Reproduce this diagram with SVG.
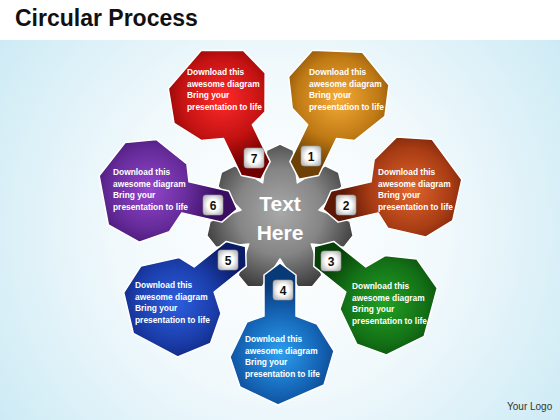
<svg xmlns="http://www.w3.org/2000/svg" xmlns:xlink="http://www.w3.org/1999/xlink" width="560" height="420" viewBox="0 0 560 420">
<style>
.t{font-family:"Liberation Sans",Arial,sans-serif;font-weight:bold;font-size:8.4px;fill:#fff}
.num{font-family:"Liberation Sans",Arial,sans-serif;font-weight:bold;font-size:12px;fill:#111;text-anchor:middle}
.box{fill:url(#boxg);stroke:#9a9a9a;stroke-width:0.6}
.petal{stroke:#fff;stroke-width:1.5;stroke-linejoin:round}
</style>
<defs>
<radialGradient id="bg" gradientUnits="userSpaceOnUse" cx="280" cy="230" r="360">
<stop offset="0" stop-color="#ffffff"/><stop offset="0.45" stop-color="#f1f9fc"/><stop offset="1" stop-color="#c9e9f4"/>
</radialGradient>
<radialGradient id="gearg" gradientUnits="userSpaceOnUse" cx="280" cy="212" r="78">
<stop offset="0" stop-color="#a9a9a9"/><stop offset="0.55" stop-color="#858585"/><stop offset="1" stop-color="#3e3e3e"/>
</radialGradient>
<radialGradient id="boxg" cx="0.5" cy="0.5" r="0.6">
<stop offset="0.45" stop-color="#ffffff"/><stop offset="1" stop-color="#b8b8b8"/>
</radialGradient>
<radialGradient id="g1" gradientUnits="userSpaceOnUse" cx="280" cy="85" r="68"><stop offset="0" stop-color="#f5ab38"/><stop offset="0.6" stop-color="#c07a14"/><stop offset="1" stop-color="#6e4006"/></radialGradient>
<radialGradient id="g2" gradientUnits="userSpaceOnUse" cx="280" cy="85" r="68"><stop offset="0" stop-color="#e2652c"/><stop offset="0.6" stop-color="#a83c14"/><stop offset="1" stop-color="#5e1806"/></radialGradient>
<radialGradient id="g3" gradientUnits="userSpaceOnUse" cx="280" cy="85" r="68"><stop offset="0" stop-color="#22a024"/><stop offset="0.6" stop-color="#137016"/><stop offset="1" stop-color="#073f09"/></radialGradient>
<radialGradient id="g4" gradientUnits="userSpaceOnUse" cx="280" cy="85" r="68"><stop offset="0" stop-color="#2c9ff0"/><stop offset="0.6" stop-color="#1463b4"/><stop offset="1" stop-color="#093a78"/></radialGradient>
<radialGradient id="g5" gradientUnits="userSpaceOnUse" cx="280" cy="85" r="68"><stop offset="0" stop-color="#2d5fe0"/><stop offset="0.6" stop-color="#1a3ca8"/><stop offset="1" stop-color="#0a1c68"/></radialGradient>
<radialGradient id="g6" gradientUnits="userSpaceOnUse" cx="280" cy="85" r="68"><stop offset="0" stop-color="#9446cc"/><stop offset="0.6" stop-color="#642a98"/><stop offset="1" stop-color="#3a0f62"/></radialGradient>
<radialGradient id="g7" gradientUnits="userSpaceOnUse" cx="280" cy="85" r="68"><stop offset="0" stop-color="#ff2a2a"/><stop offset="0.6" stop-color="#c41212"/><stop offset="1" stop-color="#720000"/></radialGradient>
<polygon id="petal" class="petal" points="282,33 320,51 330,81 313,116 296,122 296,163 280,175 264,163 264,122 243,114 226,87 236,53"/>
</defs>

<rect x="0" y="0" width="560" height="420" fill="url(#bg)"/>
<rect x="0" y="0" width="560" height="40" fill="#ffffff"/>
<text x="15" y="26" font-family="Liberation Sans, Arial, sans-serif" font-weight="bold" font-size="23" fill="#111">Circular Process</text>
<text x="507" y="410" font-family="Liberation Sans, Arial, sans-serif" font-size="10" fill="#333">Your Logo</text>

<g id="center-gear">
<polygon fill="url(#gearg)" stroke="#fff" stroke-width="1.5" stroke-linejoin="round" points="266.64,150.29 280,144 293.36,150.29 297.36,182.96 325.40,165.72 338.64,172.24 342.06,186.60 319.00,210.10 349.96,221.27 353.12,235.69 344.02,247.31 311.27,243.94 321.85,275.12 312.54,286.58 297.78,286.70 280,259 262.22,286.70 247.46,286.58 238.15,275.12 248.73,243.94 215.98,247.31 206.88,235.69 210.04,221.27 241.00,210.10 217.94,186.60 221.36,172.24 234.60,165.72 262.64,182.96"/>
<text x="280" y="211" text-anchor="middle" font-family="Liberation Sans, Arial, sans-serif" font-weight="bold" font-size="21" fill="#fff">Text</text>
<text x="280" y="240" text-anchor="middle" font-family="Liberation Sans, Arial, sans-serif" font-weight="bold" font-size="21" fill="#fff">Here</text>
</g>

<g id="step-1">
<use xlink:href="#petal" href="#petal" fill="url(#g1)" transform="rotate(25.714 280 219)"/>
<rect class="box" x="301" y="146" width="20" height="20" rx="3"/>
<text class="num" x="311" y="160.5">1</text>
<text class="t" x="309" y="75"><tspan x="309">Download this</tspan><tspan x="309" dy="11.5">awesome diagram</tspan><tspan x="309" dy="11.5">Bring your</tspan><tspan x="309" dy="11.5">presentation to life</tspan></text>
</g>

<g id="step-2">
<use xlink:href="#petal" href="#petal" fill="url(#g2)" transform="rotate(77.143 280 219)"/>
<rect class="box" x="336" y="195" width="20" height="20" rx="3"/>
<text class="num" x="346" y="209.5">2</text>
<text class="t" x="378" y="175"><tspan x="378">Download this</tspan><tspan x="378" dy="11.5">awesome diagram</tspan><tspan x="378" dy="11.5">Bring your</tspan><tspan x="378" dy="11.5">presentation to life</tspan></text>
</g>

<g id="step-3">
<use xlink:href="#petal" href="#petal" fill="url(#g3)" transform="rotate(128.571 280 219)"/>
<rect class="box" x="321" y="251" width="20" height="20" rx="3"/>
<text class="num" x="331" y="265.5">3</text>
<text class="t" x="352" y="289"><tspan x="352">Download this</tspan><tspan x="352" dy="11.5">awesome diagram</tspan><tspan x="352" dy="11.5">Bring your</tspan><tspan x="352" dy="11.5">presentation to life</tspan></text>
</g>

<g id="step-4">
<use xlink:href="#petal" href="#petal" fill="url(#g4)" transform="rotate(180 280 219)"/>
<rect class="box" x="273" y="280" width="20" height="20" rx="3"/>
<text class="num" x="283" y="294.5">4</text>
<text class="t" x="245" y="342"><tspan x="245">Download this</tspan><tspan x="245" dy="11.5">awesome diagram</tspan><tspan x="245" dy="11.5">Bring your</tspan><tspan x="245" dy="11.5">presentation to life</tspan></text>
</g>

<g id="step-5">
<use xlink:href="#petal" href="#petal" fill="url(#g5)" transform="rotate(231.429 280 219)"/>
<rect class="box" x="218" y="250" width="20" height="20" rx="3"/>
<text class="num" x="228" y="264.5">5</text>
<text class="t" x="135" y="288"><tspan x="135">Download this</tspan><tspan x="135" dy="11.5">awesome diagram</tspan><tspan x="135" dy="11.5">Bring your</tspan><tspan x="135" dy="11.5">presentation to life</tspan></text>
</g>

<g id="step-6">
<use xlink:href="#petal" href="#petal" fill="url(#g6)" transform="rotate(282.857 280 219)"/>
<rect class="box" x="203" y="195" width="20" height="20" rx="3"/>
<text class="num" x="213" y="209.5">6</text>
<text class="t" x="113" y="175"><tspan x="113">Download this</tspan><tspan x="113" dy="11.5">awesome diagram</tspan><tspan x="113" dy="11.5">Bring your</tspan><tspan x="113" dy="11.5">presentation to life</tspan></text>
</g>

<g id="step-7">
<use xlink:href="#petal" href="#petal" fill="url(#g7)" transform="rotate(334.286 280 219)"/>
<rect class="box" x="244" y="148" width="20" height="20" rx="3"/>
<text class="num" x="254" y="162.5">7</text>
<text class="t" x="187" y="75"><tspan x="187">Download this</tspan><tspan x="187" dy="11.5">awesome diagram</tspan><tspan x="187" dy="11.5">Bring your</tspan><tspan x="187" dy="11.5">presentation to life</tspan></text>
</g>
</svg>
